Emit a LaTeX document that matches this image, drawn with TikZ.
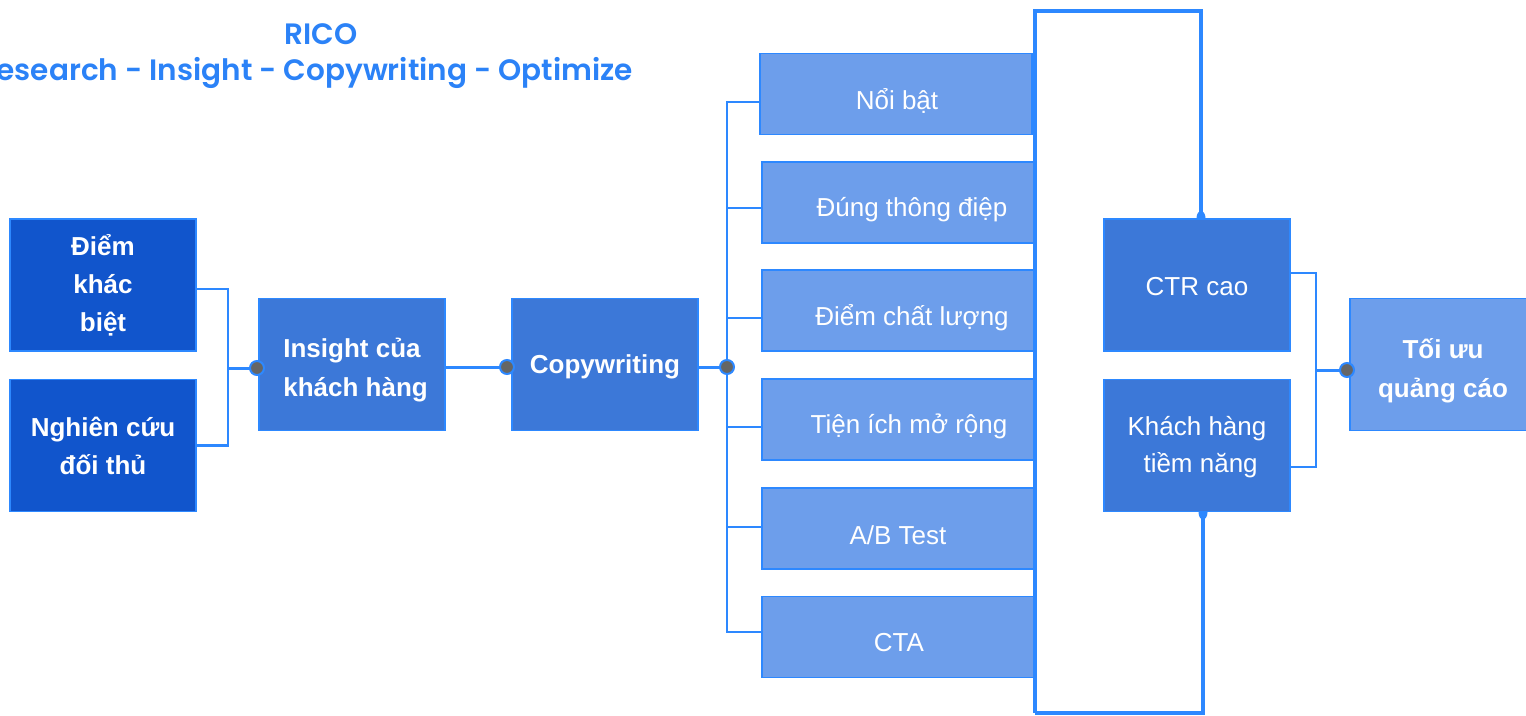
\documentclass[tikz,border=0pt]{standalone}
\usepackage{fontspec}
\setmainfont{Liberation Sans}
\newfontfamily\titlefont{Poppins}[BoldFont={* SemiBold}]
\definecolor{dk}{HTML}{1155CC}
\definecolor{md}{HTML}{3C78D8}
\definecolor{lt}{HTML}{6D9EEB}
\definecolor{ln}{HTML}{2D88FF}
\definecolor{ttl}{HTML}{2B82F7}
\definecolor{dotgrey}{HTML}{666666}
\pgfdeclarelayer{bg}
\pgfsetlayers{bg,main}
\begin{document}
\begin{tikzpicture}[x=1pt,y=-1pt,
  box/.style={draw=ln, line width=1.8pt, text=white, align=center, inner sep=0pt},
  regtext/.style={font=\fontsize{26}{37}\selectfont},
  boldtext/.style={font=\bfseries\fontsize{26}{38}\selectfont},
  bigbox/.style={box, minimum width=186pt, minimum height=132pt},
  colbox/.style={box, fill=lt, minimum width=272pt, minimum height=81pt},
  lbl/.style={text=white, font=\fontsize{26}{37}\selectfont, inner sep=0pt, align=center},
  blbl/.style={lbl, font=\bfseries\fontsize{26}{39}\selectfont},
  tree/.style={draw=ln, line width=2.2pt},
  loopline/.style={draw=ln, line width=3.8pt},
  dotc/.style={circle, fill=dotgrey, draw=ln, line width=2pt, minimum size=14pt, inner sep=0pt},
  ttlstyle/.style={text=ttl, font=\titlefont\bfseries\fontsize{29.5}{34}\selectfont, inner sep=0pt}
]
\useasboundingbox (0,0) rectangle (1526,715);

% title
\node[ttlstyle] (t1) at (321,34) {RICO};
\node[ttlstyle, anchor=east] (t2) at (633,73) {Research - Insight - Copywriting - Optimize};

% left boxes
\node[bigbox, fill=dk, boldtext] (dk1) at (103,285) {Điểm\\khác\\biệt};
\node[bigbox, fill=dk, boldtext] (dk2) at (103,445.5) {Nghiên cứu\\đối thủ};
\node[bigbox, fill=md, label={[blbl, yshift=-6pt]center:Insight của\\ \ khách hàng}] (ins) at (352,364.5) {};
\node[bigbox, fill=md, label={[blbl, yshift=-2pt]center:Copywriting}] (cp) at (605,364.5) {};

% column boxes
\node[colbox, label={[lbl, xshift=1pt, yshift=-7pt]center:Nổi bật}] (r1) at (896,94) {};
\node[colbox, label={[lbl, xshift=14pt, yshift=-7pt]center:Đúng thông điệp}] (r2) at (898,202.5) {};
\node[colbox, label={[lbl, xshift=14pt, yshift=-7pt]center:Điểm chất lượng}] (r3) at (898,310.5) {};
\node[colbox, label={[lbl, xshift=11pt, yshift=-7pt]center:Tiện ích mở rộng}] (r4) at (898,419.5) {};
\node[colbox, label={[lbl, xshift=0pt, yshift=-7pt]center:A/B Test}] (r5) at (898,528.5) {};
\node[colbox, label={[lbl, xshift=1pt, yshift=-6pt]center:CTA}] (r6) at (898,637) {};

% right boxes
\node[bigbox, fill=md, label={[lbl, yshift=-2pt]center:CTR cao}] (ctr) at (1197,285) {};
\node[bigbox, fill=md, label={[lbl, yshift=-2pt]center:Khách hàng\\ \ tiềm năng}] (kh) at (1197,445.5) {};
\node[bigbox, fill=lt, label={[blbl, yshift=-6pt]center:Tối ưu\\quảng cáo}] (opt) at (1443,364.5) {};

% junctions
\coordinate (jL) at (228,368);
\coordinate (jR) at (1316,370);
\coordinate (ltop) at (1035,11);
\coordinate (lbot) at (1035,713);

\begin{pgfonlayer}{bg}
  \draw[tree] ([yshift=-4pt]dk1.east) -| (jL) |- (dk2.east);
  \draw[tree, line width=3pt] (jL) -- (257,368) coordinate (d1c);
  \draw[tree, line width=3pt] (ins.east |- 0,367) -- (507,367) coordinate (d2c);
  \draw[tree, line width=3pt] (cp.east |- 0,367) -- (727,367) coordinate (d3c);
  \draw[tree] ([yshift=-8pt]r1.west) -| (d3c);
  \draw[tree] ([yshift=-5.5pt]r2.west) -| (d3c);
  \draw[tree] ([yshift=-7.5pt]r3.west) -| (d3c);
  \draw[tree] ([yshift=-7.5pt]r4.west) -| (d3c);
  \draw[tree] ([yshift=1.5pt]r5.west) -| (d3c);
  \draw[tree] ([yshift=5pt]r6.west) -| (d3c);
  \draw[loopline] (lbot) -- (ltop) -| ([xshift=4pt]ctr.north);
  \draw[loopline] (lbot) -| ([xshift=6pt]kh.south);
  \fill[ln] ([xshift=4pt]ctr.north) ellipse (4.5pt and 7pt);
  \fill[ln] ([xshift=6pt]kh.south) ellipse (4.5pt and 7pt);
  \draw[tree] ([yshift=12pt]ctr.east) -| (jR) |- ([yshift=-21.5pt]kh.east);
  \draw[tree, line width=3pt] (jR) -- (1347,370) coordinate (d4c);
\end{pgfonlayer}

\node[dotc] (d1) at (d1c) {};
\node[dotc] (d2) at (d2c) {};
\node[dotc] (d3) at (d3c) {};
\node[dotc] (d4) at (d4c) {};
\end{tikzpicture}
\end{document}
